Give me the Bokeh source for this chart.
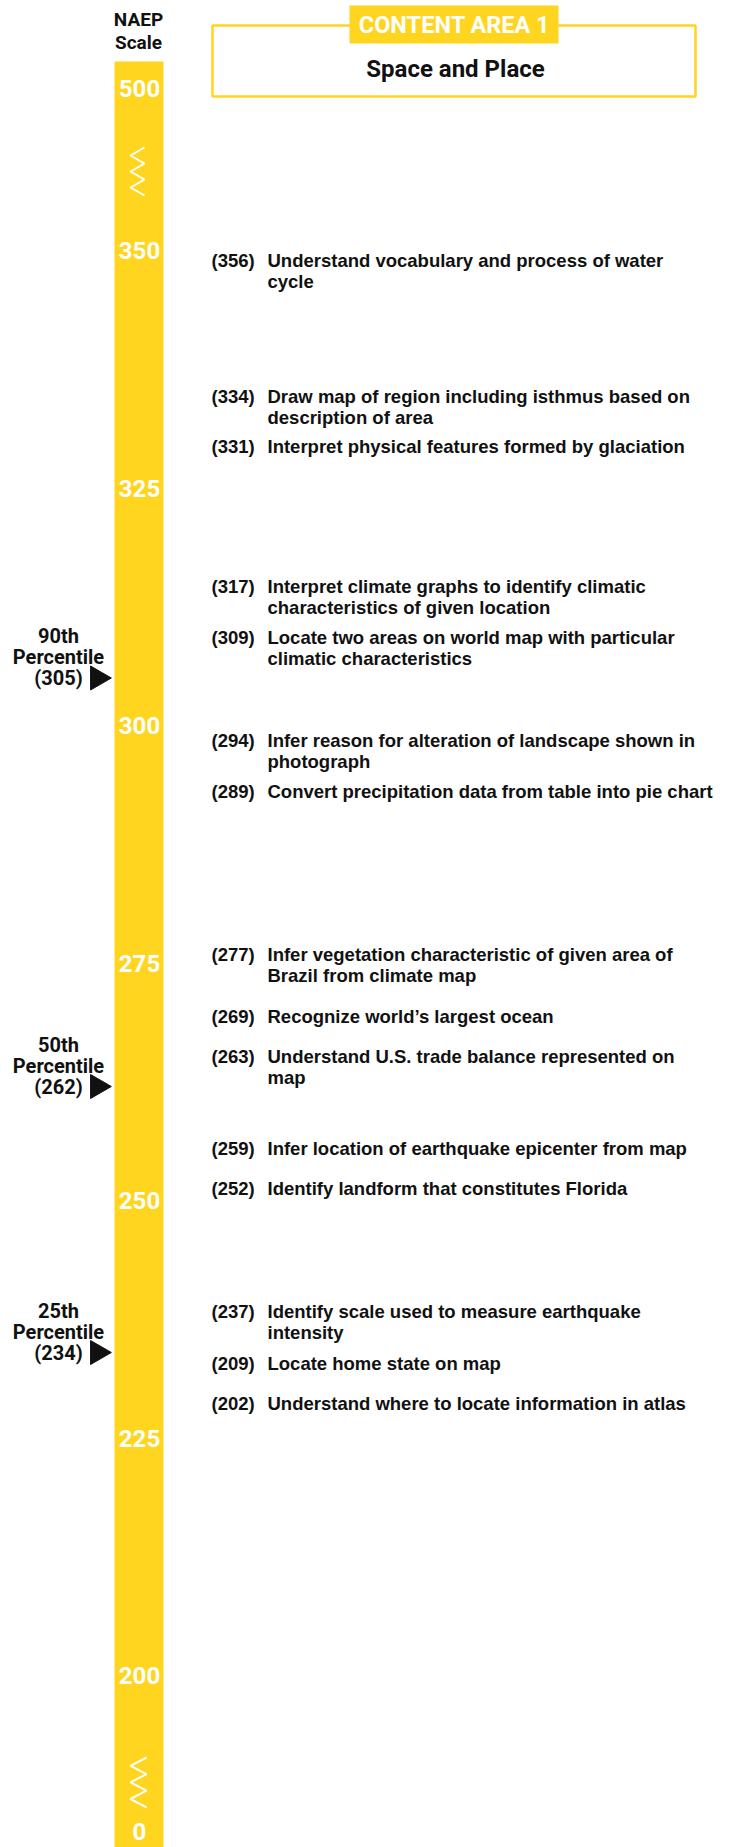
import math
from bokeh.plotting import figure
from bokeh.models import Range1d, ColumnDataSource
from bokeh.core.properties import value
from bokeh.embed import file_html
from bokeh.resources import INLINE

# ---------------- data ----------------
item_scores = [356, 334, 331, 317, 309, 294, 289, 277, 269, 263, 259, 252, 237, 209, 202]
item_texts = [
    "Understand vocabulary and process of water\ncycle",
    "Draw map of region including isthmus based on\ndescription of area",
    "Interpret physical features formed by glaciation",
    "Interpret climate graphs to identify climatic\ncharacteristics of given location",
    "Locate two areas on world map with particular\nclimatic characteristics",
    "Infer reason for alteration of landscape shown in\nphotograph",
    "Convert precipitation data from table into pie chart",
    "Infer vegetation characteristic of given area of\nBrazil from climate map",
    "Recognize world\u2019s largest ocean",
    "Understand U.S. trade balance represented on\nmap",
    "Infer location of earthquake epicenter from map",
    "Identify landform that constitutes Florida",
    "Identify scale used to measure earthquake\nintensity",
    "Locate home state on map",
    "Understand where to locate information in atlas",
]
pct_names = ["90th", "50th", "25th"]
pct_scores = [305, 262, 234]
scale_ticks = [350, 325, 300, 275, 250, 225, 200]
break_top_label = "500"
break_bottom_label = "0"
scale_title = ["NAEP", "Scale"]
content_area = "CONTENT AREA 1"
content_title = "Space and Place"

# ---------------- layout (pixels) ----------------
# label nudges (screen px, + = down) as printed in the original layout
item_label_nudge = [67, -6, 15.5, 22.5, -2.5, -42, -38.5, 10.5, -3.5, -20.5, 33.5, 7, -12.5, -226.5, -253]

W, H = 730, 1847
PX_PER_PT = 9.5
REF_SCORE, REF_Y = 300, 725


def s_at(page_y):
    return REF_SCORE - (page_y - REF_Y) / PX_PER_PT


YELLOW = "#FFD520"
INK = "#111111"
COND = value("Roboto")
SANS = value("Liberation Sans")

p = figure(width=W, height=H, x_range=Range1d(0, W), y_range=Range1d(s_at(H), s_at(0)),
           output_backend="svg", toolbar_location=None, min_border=0)
p.axis.visible = False
p.grid.visible = False
p.outline_line_color = None
p.background_fill_color = "white"
p.border_fill_color = "white"

# scale bar
p.quad(left=[114], right=[163], top=[s_at(61)], bottom=[s_at(H)], fill_color=YELLOW, line_color=None)

# break zigzags
zx = [144, 130, 144, 130, 144, 130, 144]
p.line(zx, [s_at(147 + 8 * i) for i in range(7)], line_color="white", line_width=2)
zx2 = [146, 130, 146, 130, 146, 130, 146]
p.line(zx2, [s_at(1757 + 8.3 * i) for i in range(7)], line_color="white", line_width=2)

# scale labels
p.text(x=[139] * len(scale_ticks), y=scale_ticks, text=[str(t) for t in scale_ticks],
       text_font=COND, text_font_style="bold", text_font_size="24px", text_color="white",
       text_align="center", text_baseline="middle")
p.text(x=[139, 139], y=[s_at(88), s_at(1831)], text=[break_top_label, break_bottom_label],
       text_font=COND, text_font_style="bold", text_font_size="24px", text_color="white",
       text_align="center", text_baseline="middle")

# scale title
p.text(x=[138, 138], y=[s_at(19), s_at(42)], text=scale_title,
       text_font=COND, text_font_style="bold", text_font_size="19px", text_color=INK,
       text_align="center", text_baseline="middle")

# header box
p.quad(left=[212], right=[695], top=[s_at(25)], bottom=[s_at(96)], fill_color=None,
       line_color=YELLOW, line_width=2.5)
p.quad(left=[349], right=[558], top=[s_at(5)], bottom=[s_at(43)], fill_color=YELLOW, line_color=None)
p.text(x=[454], y=[s_at(24)], text=[content_area], text_font=COND, text_font_style="bold",
       text_font_size="23.5px", text_color="white", text_align="center", text_baseline="middle")
p.text(x=[455], y=[s_at(68)], text=[content_title], text_font=COND, text_font_style="bold",
       text_font_size="24px", text_color=INK, text_align="center", text_baseline="middle")

# percentile markers
p.scatter(x=[97] * len(pct_scores), y=pct_scores, marker="triangle", size=24,
          angle=-math.pi / 2, fill_color=INK, line_color=INK)
px, py, pt, po = [], [], [], []
for name, sc in zip(pct_names, pct_scores):
    for k, t in enumerate([name, "Percentile", f"({sc})"]):
        px.append(58)
        py.append(sc)
        pt.append(t)
        po.append(-42 + 21 * k)
p.text(x="x", y="y", text="t", y_offset="o", source=ColumnDataSource(dict(x=px, y=py, t=pt, o=po)),
       text_font=COND, text_font_style="bold", text_font_size="20px", text_color=INK,
       text_align="center", text_baseline="middle")

# items
nx, ny, nt, no = [], [], [], []
dx, dy, dt, do = [], [], [], []
for sc, txt, nud in zip(item_scores, item_texts, item_label_nudge):
    nx.append(211); ny.append(sc); nt.append(f"({sc})"); no.append(nud)
    for k, line in enumerate(txt.split("\n")):
        dx.append(267); dy.append(sc); dt.append(line); do.append(nud + 21 * k)
p.text(x="x", y="y", text="t", y_offset="o", source=ColumnDataSource(dict(x=nx, y=ny, t=nt, o=no)),
       text_font=SANS, text_font_style="bold", text_font_size="18.5px", text_color=INK,
       text_align="left", text_baseline="middle")
p.text(x="x", y="y", text="t", y_offset="o", source=ColumnDataSource(dict(x=dx, y=dy, t=dt, o=do)),
       text_font=SANS, text_font_style="bold", text_font_size="18.5px", text_color=INK,
       text_align="left", text_baseline="middle")

open("out.html", "w").write(file_html(p, INLINE))
